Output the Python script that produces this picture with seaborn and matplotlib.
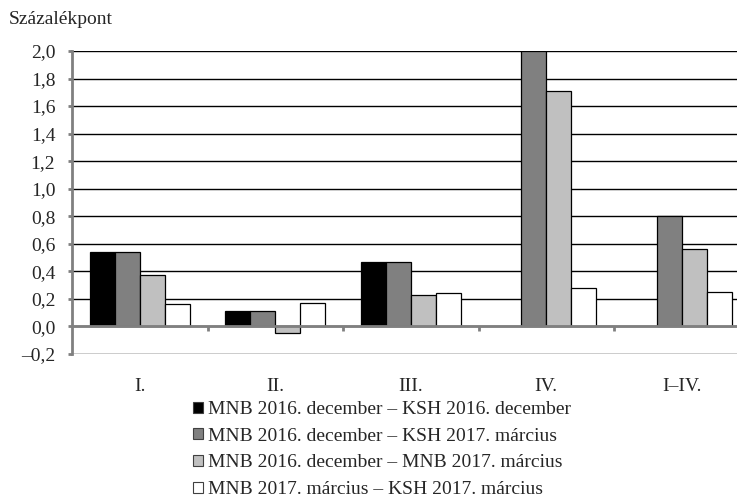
import numpy as np
import pandas as pd
import matplotlib
matplotlib.use("Agg")
import matplotlib.pyplot as plt
import seaborn as sns

categories = ["I.", "II.", "III.", "IV.", "I–IV."]
series_names = [
    "MNB 2016. december – KSH 2016. december",
    "MNB 2016. december – KSH 2017. március",
    "MNB 2016. december – MNB 2017. március",
    "MNB 2017. március – KSH 2017. március",
]
dec_vs_ksh_dec = [0.54, 0.11, 0.47, np.nan, np.nan]
dec_vs_ksh_mar = [0.54, 0.11, 0.47, 2.00, 0.80]
dec_vs_mnb_mar = [0.37, -0.05, 0.23, 1.71, 0.56]
mar_vs_ksh_mar = [0.16, 0.17, 0.24, 0.28, 0.25]
colors = ["#000000", "#808080", "#c0c0c0", "#ffffff"]
y_ticks = [-0.2, 0.0, 0.2, 0.4, 0.6, 0.8, 1.0, 1.2, 1.4, 1.6, 1.8, 2.0]

rows = []
for name, vals in zip(series_names,
                      [dec_vs_ksh_dec, dec_vs_ksh_mar, dec_vs_mnb_mar, mar_vs_ksh_mar]):
    for cat, v in zip(categories, vals):
        rows.append({"cat": cat, "series": name, "value": v})
df = pd.DataFrame(rows)

FS = 14
sns.set_style("white")
plt.rcParams["font.family"] = ["Liberation Serif", "DejaVu Serif"]
plt.rcParams["font.size"] = FS

W, H = 737, 495
fig = plt.figure(figsize=(W / 100, H / 100), dpi=100)
left_px, right_px, top_px, bottom_px = 72, 749.5, 51, 354
ax = fig.add_axes([left_px / W, (H - bottom_px) / H,
                   (right_px - left_px) / W, (bottom_px - top_px) / H])

sns.barplot(data=df, x="cat", y="value", hue="series", order=categories,
            hue_order=series_names, palette=colors, saturation=1,
            width=0.735, edgecolor="black", linewidth=0.9, ax=ax, zorder=2)

ax.set_xlim(-0.5, len(categories) - 0.5)
ax.set_ylim(-0.2, 2.0)
ax.set_yticks(y_ticks)
ax.set_yticklabels([("–" if v < 0 else "") + f"{abs(v):.1f}".replace(".", ",")
                    for v in y_ticks])
ax.set_xlabel("")
ax.set_ylabel("")

# horizontal grid
for v in y_ticks:
    ax.axhline(v, color="black", lw=1.0, zorder=1)
# zero axis with category separators
ax.axhline(0, color="#808080", lw=2.0, zorder=3)
ax.vlines(np.arange(len(categories) - 1) + 0.5, -0.03, 0, color="#808080",
          lw=2.0, zorder=3)

for s in ["top", "right", "bottom"]:
    ax.spines[s].set_visible(False)
ax.spines["left"].set_color("#808080")
ax.spines["left"].set_linewidth(2.0)
ax.spines["left"].set_zorder(4)

ax.tick_params(axis="y", length=3, width=2, color="#808080", pad=9,
               labelsize=FS, left=True)
ax.tick_params(axis="x", length=0, pad=17, labelsize=FS)

handles, labels = ax.get_legend_handles_labels()
ax.get_legend().remove()
leg = fig.legend(handles, labels, loc="upper left",
                 bbox_to_anchor=(193 / W, 1 - 401 / H), frameon=False,
                 fontsize=FS, handlelength=0.5, handleheight=0.5,
                 handletextpad=0.27, labelspacing=0.5, borderpad=0,
                 borderaxespad=0)
for h in leg.legend_handles:
    h.set_edgecolor("#404040")
    h.set_linewidth(0.8)

fig.text(9 / W, 1 - 19 / H, "Százalékpont", fontsize=FS, va="center",
         ha="left")

fig.savefig("out.png", dpi=100)
